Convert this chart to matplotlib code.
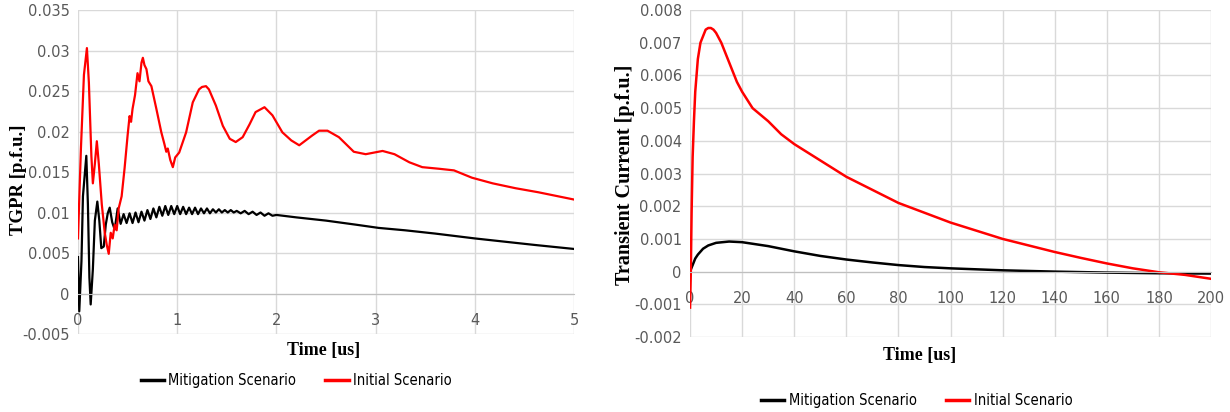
import matplotlib.pyplot as plt
from matplotlib.ticker import FuncFormatter, MultipleLocator

# TGPR over the first 5 us (left panel)
t_init = [0, 0.03, 0.06, 0.09, 0.11, 0.135, 0.15, 0.17, 0.19, 0.21, 0.24, 0.27, 0.29, 0.31,
          0.33, 0.35, 0.37, 0.39, 0.41, 0.44, 0.47, 0.50, 0.52, 0.535, 0.55, 0.575, 0.60,
          0.62, 0.64, 0.654, 0.67, 0.69, 0.71, 0.74, 0.79, 0.84, 0.87, 0.89, 0.905, 0.93,
          0.956, 0.98, 1.02, 1.09, 1.157, 1.22, 1.25, 1.29, 1.32, 1.39, 1.46, 1.53, 1.59,
          1.66, 1.73, 1.79, 1.88, 1.96, 2.06, 2.15, 2.23, 2.36, 2.43, 2.515, 2.63, 2.78,
          2.90, 3.07, 3.19, 3.34, 3.47, 3.64, 3.79, 3.97, 4.18, 4.41, 4.64, 4.88, 5.0]
gpr_init = [0.0068, 0.018, 0.027, 0.0303, 0.026, 0.017, 0.0136, 0.016, 0.0188, 0.016, 0.011,
            0.0075, 0.006, 0.0049, 0.0075, 0.0068, 0.0085, 0.0078, 0.0105, 0.012, 0.0155,
            0.0195, 0.0219, 0.0212, 0.0228, 0.0245, 0.0272, 0.0262, 0.0285, 0.0291, 0.0282,
            0.0277, 0.0262, 0.0256, 0.0228, 0.0199, 0.0185, 0.0175, 0.0179, 0.0165, 0.0156,
            0.0168, 0.0174, 0.0199, 0.0236, 0.0252, 0.0255, 0.0256, 0.0252, 0.0232, 0.0207,
            0.0191, 0.0187, 0.0193, 0.0209, 0.0224, 0.0230, 0.0220, 0.0199, 0.0189, 0.0183,
            0.0195, 0.0201, 0.0201, 0.0193, 0.0175, 0.0172, 0.0176, 0.0172, 0.0162, 0.0156,
            0.0154, 0.0152, 0.0143, 0.0136, 0.0130, 0.0125, 0.0119, 0.0116]

t_mit = [0, 0.013, 0.035, 0.05, 0.084, 0.10, 0.115, 0.128, 0.15, 0.17, 0.195, 0.215, 0.235,
         0.26, 0.28, 0.30, 0.32, 0.345, 0.37, 0.40, 0.43, 0.46, 0.49, 0.52, 0.55, 0.58, 0.61,
         0.64, 0.67, 0.70, 0.73, 0.76, 0.79, 0.82, 0.85, 0.88, 0.91, 0.94, 0.97, 1.00, 1.03,
         1.06, 1.09, 1.12, 1.15, 1.18, 1.21, 1.24, 1.27, 1.30, 1.33, 1.36, 1.39, 1.42, 1.45,
         1.48, 1.51, 1.54, 1.57, 1.60, 1.64, 1.68, 1.72, 1.76, 1.80, 1.84, 1.88, 1.92, 1.96,
         2.0, 2.2, 2.5, 2.8, 3.03, 3.3, 3.6, 4.0, 4.3, 4.6, 5.0]
gpr_mit = [0.0045, -0.0022, 0.004, 0.012, 0.017, 0.011, 0.002, -0.00135, 0.003, 0.009,
           0.01135, 0.009, 0.0056, 0.0058, 0.0085, 0.0099, 0.0106, 0.0088, 0.0079, 0.0105,
           0.0086, 0.0098, 0.0087, 0.0099, 0.0087, 0.0100, 0.0088, 0.0101, 0.0090, 0.0103,
           0.0092, 0.0105, 0.0094, 0.0107, 0.0096, 0.0108, 0.0097, 0.0108, 0.0098, 0.0108,
           0.0098, 0.0107, 0.0098, 0.0106, 0.0098, 0.0106, 0.0098, 0.0105, 0.0099, 0.0105,
           0.0099, 0.0104, 0.0100, 0.0104, 0.0100, 0.0103, 0.0100, 0.0103, 0.0100, 0.0102,
           0.0099, 0.0102, 0.0098, 0.0101, 0.0097, 0.0100, 0.0096, 0.0099, 0.0096, 0.0097,
           0.0094, 0.0090, 0.0085, 0.0081, 0.0078, 0.0074, 0.0068, 0.0064, 0.0060, 0.0055]

# transient current over 200 us (right panel)
t_cur = [0, 0.3, 0.6, 1, 1.5, 2, 3, 4, 5, 6, 7, 8, 9, 10, 12, 15, 18, 20, 24, 27, 30, 35,
         40, 50, 60, 70, 80, 90, 100, 110, 120, 130, 140, 150, 160, 170, 180, 190, 200]
cur_init = [-0.0011, 0.0, 0.0018, 0.0035, 0.0046, 0.0055, 0.0065, 0.0070, 0.0072, 0.0074,
            0.00745, 0.00745, 0.0074, 0.0073, 0.0070, 0.0064, 0.0058, 0.0055, 0.0050, 0.0048,
            0.0046, 0.0042, 0.0039, 0.0034, 0.0029, 0.0025, 0.0021, 0.0018, 0.0015, 0.00125,
            0.001, 0.0008, 0.0006, 0.00042, 0.00025, 0.0001, -0.00002, -0.0001, -0.00022]
t_cur_m = [0, 1, 2, 3, 5, 7, 10, 15, 20, 30, 40, 50, 60, 70, 80, 90, 100, 120, 140, 160,
           180, 200]
cur_mit = [0.0, 0.0002, 0.0004, 0.00052, 0.0007, 0.0008, 0.00088, 0.00092, 0.0009, 0.00078,
           0.00062, 0.00048, 0.00037, 0.00028, 0.0002, 0.00014, 0.0001, 0.00004, 0.0,
           -0.00003, -0.00005, -0.00006]

grey = '#595959'
fig = plt.figure(figsize=(12.3, 4.12), dpi=100)
ax1 = fig.add_axes([0.0634, 0.1893, 0.4033, 0.7864])
ax2 = fig.add_axes([0.561, 0.182, 0.4236, 0.7937])

fmt = FuncFormatter(lambda v, p: '%g' % round(v, 6))

def style(ax, ylim, ystep, xlim, xstep):
    ax.set_xlim(*xlim)
    ax.set_ylim(*ylim)
    ax.yaxis.set_major_locator(MultipleLocator(ystep))
    ax.xaxis.set_major_locator(MultipleLocator(xstep))
    ax.yaxis.set_major_formatter(fmt)
    ax.xaxis.set_major_formatter(fmt)
    ax.grid(True, color='#d9d9d9', lw=1)
    ax.set_axisbelow(True)
    for s in ['top', 'right', 'left']:
        ax.spines[s].set_visible(False)
    ax.spines['bottom'].set_position(('data', 0))
    ax.spines['bottom'].set_color('#bfbfbf')
    ax.tick_params(length=0, labelsize=10.5, colors=grey, pad=6)
    ax.tick_params(axis='x', pad=14)

ax1.plot(t_mit, gpr_mit, color='black', lw=1.6, label='Mitigation Scenario')
ax1.plot(t_init, gpr_init, color='red', lw=1.6, label='Initial Scenario')
style(ax1, (-0.005, 0.035), 0.005, (0, 5), 1)
ax1.text(-0.12, 0.475, 'TGPR [p.f.u.]', transform=ax1.transAxes, rotation=90,
         ha='center', va='center', fontsize=13.5, fontweight='bold', family='Liberation Serif')
ax1.text(0.496, -0.052, 'Time [us]', transform=ax1.transAxes, ha='center', va='center',
         fontsize=13, fontweight='bold', family='Liberation Serif')
ax1.legend(loc='center', bbox_to_anchor=(0.44, -0.145), ncol=2, frameon=False,
           prop={'size': 10.5, 'stretch': 'condensed'}, handlelength=1.6,
           handletextpad=0.3, columnspacing=2.0)

ax2.plot(t_cur_m, cur_mit, color='black', lw=1.8, label='Mitigation Scenario')
ax2.plot(t_cur, cur_init, color='red', lw=1.8, label='Initial Scenario')
style(ax2, (-0.002, 0.008), 0.001, (0, 200), 20)
ax2.text(-0.125, 0.495, 'Transient Current [p.f.u.]', transform=ax2.transAxes, rotation=90,
         ha='center', va='center', fontsize=14.5, fontweight='bold', family='Liberation Serif')
ax2.text(0.44, -0.055, 'Time [us]', transform=ax2.transAxes, ha='center', va='center',
         fontsize=13, fontweight='bold', family='Liberation Serif')
ax2.legend(loc='center', bbox_to_anchor=(0.435, -0.193), ncol=2, frameon=False,
           prop={'size': 10.5, 'stretch': 'condensed'}, handlelength=1.6,
           handletextpad=0.3, columnspacing=2.0)

for ax in (ax1, ax2):
    for t in ax.get_legend().get_texts():
        t.set_color('black')
    for h in ax.get_legend().legend_handles:
        h.set_linewidth(2.5)

fig.savefig('out.png', dpi=100)
